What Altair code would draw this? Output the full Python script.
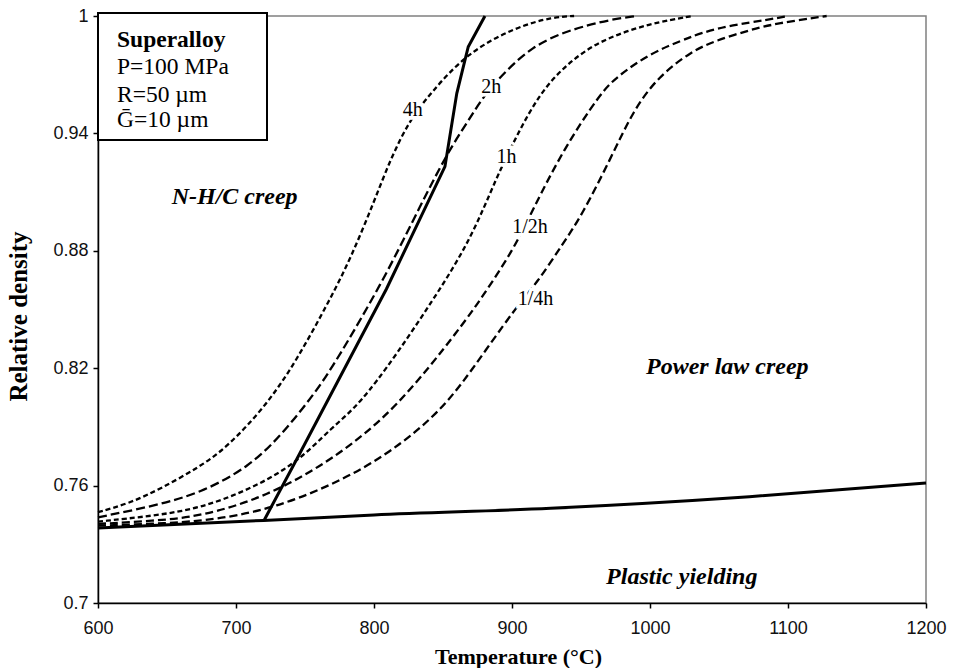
import altair as alt
import pandas as pd

# ---------------- data ----------------
T_4h = [600, 623, 646, 674, 694, 722, 744, 768, 783, 800, 812, 826, 841, 867, 903, 930, 945]
R_4h = [0.7464, 0.751, 0.7586, 0.7697, 0.7799, 0.801, 0.824, 0.855, 0.876, 0.905, 0.927, 0.947, 0.9605, 0.981, 0.9945, 0.9995, 1.0]

T_2h = [600, 640, 674, 710, 734, 758, 770, 783, 809, 830, 853, 868, 879, 896, 915, 935, 951, 970, 990]
R_2h = [0.7438, 0.7495, 0.7561, 0.7697, 0.7867, 0.808, 0.821, 0.836, 0.868, 0.898, 0.93, 0.946, 0.9588, 0.9724, 0.9843, 0.991, 0.9945, 0.998, 1.0]

T_1h = [600, 640, 674, 710, 744, 770, 785, 807, 843, 870, 889, 903, 920, 940, 964, 1000, 1031]
R_1h = [0.7416, 0.7445, 0.7484, 0.758, 0.7714, 0.7901, 0.7986, 0.8174, 0.8549, 0.8855, 0.9179, 0.9383, 0.9605, 0.9758, 0.9877, 0.9963, 1.0]

T_half = [600, 640, 674, 722, 770, 817, 865, 877, 901, 915, 937, 964, 976, 1000, 1024, 1036, 1060, 1085, 1100]
R_half = [0.7404, 0.742, 0.7441, 0.7543, 0.7731, 0.7995, 0.843, 0.8549, 0.8804, 0.9009, 0.9315, 0.9605, 0.969, 0.9809, 0.9877, 0.9912, 0.9955, 0.998, 1.0]

T_quarter = [600, 640, 674, 727, 795, 845, 870, 903, 918, 937, 950, 971, 988, 1006, 1030, 1048, 1072, 1092, 1128]
R_quarter = [0.7395, 0.7405, 0.7416, 0.7475, 0.768, 0.795, 0.818, 0.8514, 0.8634, 0.8838, 0.8974, 0.9264, 0.952, 0.969, 0.982, 0.9875, 0.9928, 0.9963, 1.0]

T_boundary = [720.3, 744, 809, 851.4, 860, 868.3, 880.4]
R_boundary = [0.7422, 0.7735, 0.8605, 0.923, 0.9605, 0.9843, 1.0]

T_plastic = [600, 720, 800, 928, 1072, 1200]
R_plastic = [0.7383, 0.7422, 0.745, 0.7484, 0.7543, 0.7613]

curve_names = ["4h", "2h", "1h", "1/2h", "1/4h"]
curve_T = [T_4h, T_2h, T_1h, T_half, T_quarter]
curve_R = [R_4h, R_2h, R_1h, R_half, R_quarter]

label_T = [828, 885, 896, 913, 917]
label_R = [0.952, 0.9637, 0.928, 0.8922, 0.8554]

region_text = ["N-H/C creep", "Power law creep", "Plastic yielding"]
region_T = [699, 1056, 1023]
region_R = [0.9075, 0.8208, 0.7133]

box_lines = ["Superalloy", "P=100 MPa", "R=50 µm", "Ḡ=10 µm"]
x_ticks = [600, 700, 800, 900, 1000, 1100, 1200]
y_ticks = [0.7, 0.76, 0.82, 0.88, 0.94, 1.0]

# ---------------- encodings ----------------
xs = alt.Scale(domain=[600, 1200], nice=False, zero=False)
ys = alt.Scale(domain=[0.7, 1.0], nice=False, zero=False)

x_enc = alt.X("T:Q", scale=xs, axis=alt.Axis(
    values=x_ticks, format="d", title="Temperature (°C)",
    labelPadding=11, titleX=420, titleY=43, titleBaseline="top", titleAlign="center"))
y_enc = alt.Y("rho:Q", scale=ys, axis=alt.Axis(
    values=y_ticks, format=".2~f", title="Relative density",
    labelPadding=5, titleX=-80, titleY=300, titleAngle=270, titleFontSize=25,
    titleBaseline="middle", titleAlign="center"))

dashes = [[5, 3], [9, 4], [5, 3], [8, 4], [8, 4]]
layers = []

plastic_df = pd.DataFrame({"T": T_plastic, "rho": R_plastic})
layers.append(alt.Chart(plastic_df).mark_line(color="black", strokeWidth=3,
                                              interpolate="monotone")
              .encode(x=x_enc, y=y_enc))

for name, Ts, Rs, d in zip(curve_names, curve_T, curve_R, dashes):
    df = pd.DataFrame({"T": Ts, "rho": Rs})
    layers.append(alt.Chart(df).mark_line(color="black", strokeWidth=2.3, strokeDash=d,
                                          interpolate="basis")
                  .encode(x=x_enc, y=y_enc))

bnd_df = pd.DataFrame({"T": T_boundary, "rho": R_boundary})
layers.append(alt.Chart(bnd_df).mark_line(color="black", strokeWidth=3)
              .encode(x=x_enc, y=y_enc))

lab_df = pd.DataFrame({"T": label_T, "rho": label_R, "txt": curve_names})
layers.append(alt.Chart(lab_df).mark_text(font="Liberation Serif", fontSize=20,
                                          stroke="white", strokeWidth=7, color="white")
              .encode(x=x_enc, y=y_enc, text="txt:N"))
layers.append(alt.Chart(lab_df).mark_text(font="Liberation Serif", fontSize=20, color="black")
              .encode(x=x_enc, y=y_enc, text="txt:N"))

reg_df = pd.DataFrame({"T": region_T, "rho": region_R, "txt": region_text})
layers.append(alt.Chart(reg_df).mark_text(font="Liberation Serif", fontSize=24,
                                          fontStyle="italic", fontWeight="bold", color="black")
              .encode(x=x_enc, y=y_enc, text="txt:N"))

# annotation box (top-left)
box_df = pd.DataFrame({"k": [0]})
layers.append(alt.Chart(box_df).mark_rect(fill="white", stroke="black", strokeWidth=2)
              .encode(x=alt.value(0), x2=alt.value(169), y=alt.value(-3), y2=alt.value(124)))
box_y = [24, 51, 79, 104]
for i, (line, yy) in enumerate(zip(box_lines, box_y)):
    layers.append(alt.Chart(box_df).mark_text(
        font="Liberation Serif", fontSize=23.5, align="left", baseline="middle",
        fontWeight="bold" if i == 0 else "normal", color="black")
        .encode(x=alt.value(19), y=alt.value(yy), text=alt.value(line)))

chart = alt.layer(*layers).properties(
    width=828, height=587,
    padding={"left": 98, "top": 16, "right": 28, "bottom": 65},
    autosize=alt.AutoSizeParams(type="none"),
    background="white",
).configure_view(stroke="#808080", strokeWidth=1.5).configure_axis(
    grid=False, domainColor="black", domainWidth=1.5, tickColor="black", tickWidth=1.5,
    tickSize=5, labelFont="Liberation Sans", labelFontSize=18, labelColor="#111",
    titleFont="Liberation Serif", titleFontWeight="bold", titleFontSize=22, titleColor="black",
    labelOverlap=False, labelFlush=False, labelBound=False,
)

chart.save("out.html", embed_options={"renderer": "svg", "actions": False})
